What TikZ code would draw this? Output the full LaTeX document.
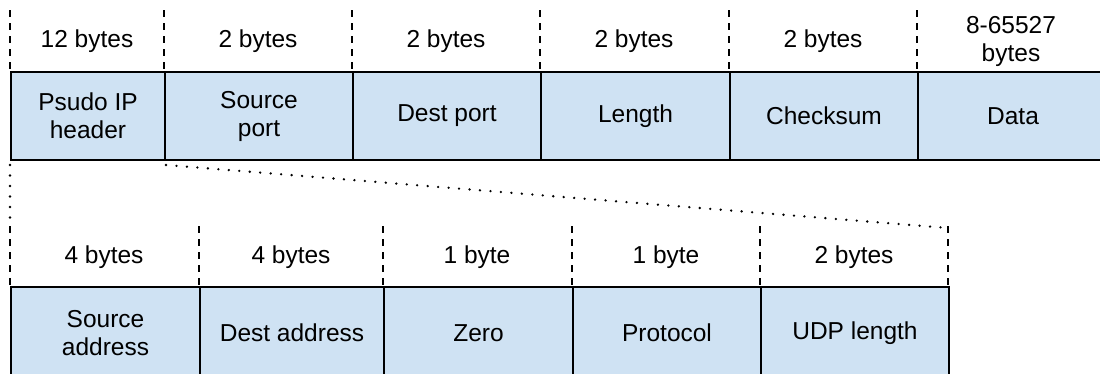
\documentclass[tikz,border=0pt]{standalone}
\usepackage{fontspec}
\setmainfont{Liberation Sans}
\definecolor{cellblue}{HTML}{CFE2F3}
\tikzset{
  cell/.style={draw=black, fill=cellblue, line width=2pt, anchor=north west,
    inner sep=0pt, align=center, font=\fontsize{24.5}{28}\selectfont},
  lbl/.style={inner sep=0pt, align=center, font=\fontsize{24.5}{28}\selectfont},
  sizeline/.style={draw=black, line width=2pt, dash pattern=on 7pt off 6pt},
  dotline/.style={draw=black, line width=2.6pt, line cap=round, dash pattern=on 0pt off 10.5pt}
}
\begin{document}
\begin{tikzpicture}[x=1pt, y=-1pt]
\useasboundingbox (0,0) rectangle (1100,373);
\clip (0,0) rectangle (1100,373);

% UDP datagram fields
\node[cell, minimum width=154pt, minimum height=88pt] (psudo) at (10,71) {Psudo IP\\header};
\node[cell, minimum width=188pt, minimum height=88pt] (sport) at (164,71) {Source\\port};
\node[cell, minimum width=188pt, minimum height=88pt] (dport) at (352,71) {Dest port};
\node[cell, minimum width=189pt, minimum height=88pt] (len)   at (540,71) {Length};
\node[cell, minimum width=188pt, minimum height=88pt] (csum)  at (729,71) {Checksum};
\node[cell, minimum width=190pt, minimum height=88pt] (data)  at (917,71) {Data};

% field sizes of the datagram
\node[lbl] (s1) at (87,41)   {12 bytes};
\node[lbl] (s2) at (258,41)  {2 bytes};
\node[lbl] (s3) at (446,41)  {2 bytes};
\node[lbl] (s4) at (634,41)  {2 bytes};
\node[lbl] (s5) at (823,41)  {2 bytes};
\node[lbl] (s6) at (1011,41) {8-65527\\bytes};

\foreach \x in {10,164,352,540,729,917}
  \draw[sizeline] (\x,10) -- (\x,71);

% pseudo IP header fields
\node[cell, minimum width=189pt, minimum height=92pt] (saddr) at (10,286)  {Source\\address};
\node[cell, minimum width=184pt, minimum height=92pt] (daddr) at (199,286) {Dest address};
\node[cell, minimum width=189pt, minimum height=92pt] (zero)  at (383,286) {Zero};
\node[cell, minimum width=188pt, minimum height=92pt] (proto) at (572,286) {Protocol};
\node[cell, minimum width=188pt, minimum height=92pt] (ulen)  at (760,286) {UDP length};

\node[lbl] (b1) at (104,257) {4 bytes};
\node[lbl] (b2) at (291,257) {4 bytes};
\node[lbl] (b3) at (477,257) {1 byte};
\node[lbl] (b4) at (666,257) {1 byte};
\node[lbl] (b5) at (854,257) {2 bytes};

\foreach \x in {10,199,383,572,760,948}
  \draw[sizeline] (\x,226) -- (\x,286);

% expansion of the pseudo header
\coordinate (zl) at (10,220);
\coordinate (zr) at (948,228);
\draw[dotline] ([yshift=-4pt]psudo.south west) -- (zl);
\draw[dotline] ([yshift=-4pt]psudo.south east) -- (zr);
\end{tikzpicture}
\end{document}
